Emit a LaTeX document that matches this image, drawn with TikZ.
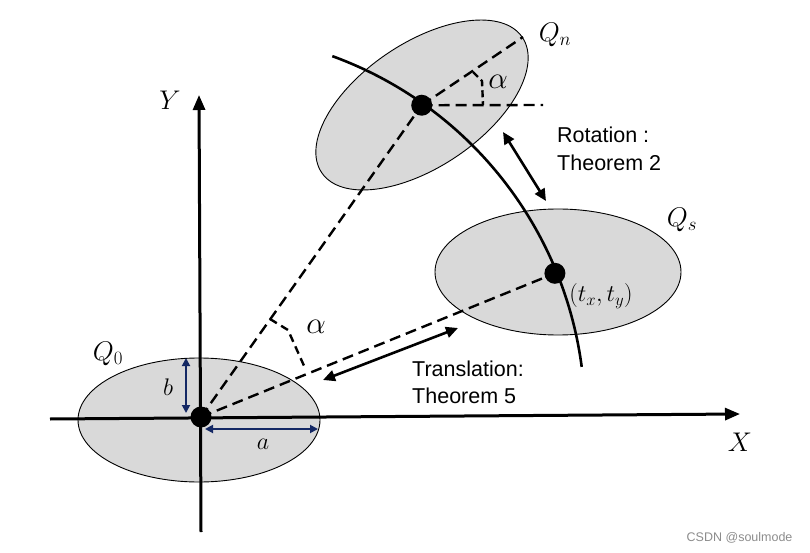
\RequirePackage{fix-cm}
\documentclass[tikz,border=0pt]{standalone}
\usepackage{fontspec}
\setmainfont{Liberation Sans}
\usetikzlibrary{arrows.meta,shapes.geometric,calc}
\begin{document}
\begin{tikzpicture}[x=1pt,y=1pt,
  ell/.style={draw=black,fill=black!15,ellipse,line width=0.9pt,minimum width=242pt,minimum height=124pt,inner sep=0pt},
  dot/.style={circle,fill=black,minimum size=21pt,inner sep=0pt},
  axis/.style={line width=3pt,-{Triangle[length=15pt,width=12pt]}},
  dsh/.style={line width=2.4pt,dash pattern=on 11pt off 6pt},
  darr/.style={line width=2.6pt,{Triangle[length=12pt,width=11pt]}-{Triangle[length=12pt,width=11pt]}},
  dim/.style={line width=1.8pt,draw={rgb,255:red,20;green,40;blue,100},{Triangle[length=8pt,width=8pt]}-{Triangle[length=8pt,width=8pt]}},
  mlab/.style={font=\fontsize{27}{30}\selectfont},
  alab/.style={font=\fontsize{31}{34}\selectfont},
  slab/.style={font=\fontsize{21.5}{25}\selectfont,anchor=base west,inner sep=0pt},
]
\useasboundingbox (0,0) rectangle (810,552);
% ellipses
\node[ell] (Q0) at (199,132) {};
\node[ell,rotate=34] (Qn) at (422,447) {};
\node[ell,minimum width=246pt,minimum height=126pt] (Qs) at (558,280) {};
% axes
\coordinate (O) at (201,135);
\coordinate (xl) at (50,133);
\coordinate (xr) at (740,138);
\coordinate (yb) at (201,20);
\coordinate (yt) at (199,457);
\draw[axis] (xl) -- (xr);
\draw[axis] (yb) -- (yt);
% arc
\draw[line width=2.6pt] ($(O)+(70:384)$) arc[start angle=70,end angle=7.5,radius=384];
\coordinate (Pn) at ($(O)+(54.7:382)$);
\coordinate (Ps) at ($(O)+(22.1:382)$);
% dashed lines
\coordinate (Pmaj) at (523,515);
\coordinate (Ph) at (543,447);
\draw[dsh] (O) -- (Pn);
\draw[dsh] (O) -- (Ps);
\draw[dsh] (Pn) -- (Pmaj);
\draw[dsh] (Pn) -- (Ph);
% angle marks
\coordinate (a1) at (473,480); \coordinate (a2) at (482,471); \coordinate (a3) at (483,447);
\draw[dsh,dash pattern=on 7pt off 4pt] (a1) -- (a2) -- (a3);
\coordinate (b1) at (270,233); \coordinate (b2) at (288,222); \coordinate (b3) at (305,184);
\draw[dsh,dash pattern=on 8pt off 5pt] (b1) -- (b2) -- (b3);
% dots
\node[dot] (dO) at (O) {};
\node[dot] (dn) at (Pn) {};
\node[dot] (ds) at (Ps) {};
% dimension arrows
\coordinate (bt) at (186,194); \coordinate (bb) at (186,139);
\draw[dim] (bt) -- (bb);
\coordinate (al) at (205,123); \coordinate (ar) at (318,123);
\draw[dim] (al) -- (ar);
% double arrows
\coordinate (t1) at (323,172); \coordinate (t2) at (458,224);
\draw[darr] (t1) -- (t2);
\coordinate (r1) at (503,420); \coordinate (r2) at (546,351);
\draw[darr] (r1) -- (r2);
% labels
\node[mlab] (lY) at (170,452) {$Y$};
\node[mlab] (lX) at (740,110) {$X$};
\node[mlab] (lQ0) at (108,198) {$Q_0$};
\node[mlab] (lQn) at (555,517) {$Q_n$};
\node[mlab] (lQs) at (682,332) {$Q_s$};
\node[alab] (la1) at (498,470) {$\alpha$};
\node[alab] (la2) at (316,225) {$\alpha$};
\node[font=\fontsize{24}{28}\selectfont] (lb) at (168,165) {$b$};
\node[font=\fontsize{24}{28}\selectfont] (la) at (263,108) {$a$};
\node[font=\fontsize{24}{28}\selectfont] (lt) at (601,256) {$(t_x,t_y)$};
\node[slab] (tr1) at (412,176) {Translation:};
\node[slab] (tr2) at (412,149) {Theorem 5};
\node[slab] (ro1) at (557,409) {Rotation :};
\node[slab] (ro2) at (557,381) {Theorem 2};
\node[font=\fontsize{12.5}{14}\selectfont,text=black!45,anchor=base east] (wm) at (796,11) {CSDN @soulmode};
\end{tikzpicture}
\end{document}
